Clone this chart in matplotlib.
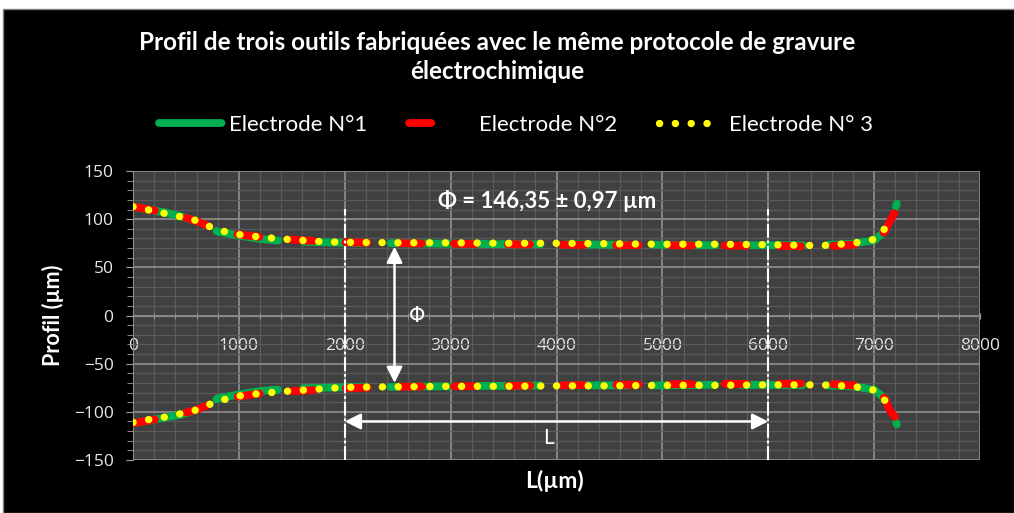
import numpy as np
import matplotlib
matplotlib.use("Agg")
from matplotlib import pyplot as plt
from matplotlib.ticker import MultipleLocator
from matplotlib.patches import Rectangle

plt.rcParams['font.family'] = ['Lato', 'DejaVu Sans']
plt.rcParams['lines.scale_dashes'] = False

# Electrode N°1 (vert)
x1 = [0, 150, 300, 450, 600, 750, 800, 1000, 1200, 1400, 1600, 1800, 2000, 2500, 3000,
      3500, 4000, 4500, 5000, 5500, 6000, 6500, 6800, 7000, 7100, 7150, 7215]
haut1 = [113, 110, 107, 103, 98, 90, 87, 83, 79.5, 77.5, 76.5, 76, 75.5, 75, 74.5,
         74, 74, 73.5, 73.5, 73, 73, 73, 74.5, 78, 87, 97, 116]
bas1 = [-112, -109, -106, -103, -98, -90, -86, -82, -78.5, -76.5, -75.5, -75, -74.5, -74, -73.5,
        -73, -72.5, -72.5, -72.5, -72, -72, -72.5, -73.5, -77, -86, -97, -113]

# Electrode N°2 (rouge)
x2 = [0, 150, 300, 450, 600, 750, 900, 1000, 1200, 1400, 1600, 1800, 2000, 2500, 3000,
      3500, 4000, 4500, 5000, 5500, 6000, 6500, 6800, 7000, 7100, 7150, 7210]
haut2 = [113, 110, 107, 103, 98, 91, 86, 84, 81.5, 79.5, 78, 77, 76, 75, 74.5,
         74, 73.5, 73, 73, 72.5, 72.5, 71.5, 73.5, 77.5, 87, 98, 110]
bas2 = [-112, -109, -106, -102, -98, -91, -86, -84, -81, -79, -78, -77, -75.5, -74, -73.5,
        -73, -72.5, -72, -71.5, -71, -71, -70.5, -72.5, -77, -86, -99, -107]

# Electrode N° 3 (jaune, pointillé)
x3 = [0, 150, 300, 450, 600, 750, 900, 1000, 1200, 1400, 1600, 1800, 2000, 2500, 3000,
      3500, 4000, 4500, 5000, 5500, 6000, 6500, 6800, 7000, 7100, 7160]
haut3 = [113, 109.5, 106, 102.5, 98.5, 91, 86, 84, 81.5, 79.5, 78, 76.5, 76, 75.5, 75.5,
         75, 75, 74.5, 74, 74, 73.5, 72.5, 75, 79, 90, 103]
bas3 = [-111, -108, -105.5, -102, -98, -91, -86, -83.5, -81, -79, -77.5, -76, -74.5, -74, -73.5,
        -73.5, -73, -73, -72.5, -72.5, -72, -72, -73.5, -77.5, -88, -101.5]

noms = ['Electrode N°1', 'Electrode N°2', 'Electrode N° 3']
L_debut, L_fin = 2000, 6000
x_phi = 2470
texte_phi = 'Φ = 146,35 ± 0,97 µm'

fig = plt.figure(figsize=(10.14, 5.13), dpi=100)
fig.patch.set_facecolor('white')
fig.patches.append(Rectangle((3 / 1014, 0), 1, 1 - 9 / 513, transform=fig.transFigure,
                             facecolor='black', edgecolor='#7f7f7f', lw=1, zorder=-10))

ax = fig.add_axes([133 / 1014, 53 / 513, 847 / 1014, 289 / 513], zorder=2)
ax.set_facecolor('#404040')

# courbes
styles = [
    dict(color='#00b050', lw=5.6, dashes=(45, 18), dash_capstyle='round'),
    dict(color='#ff0000', lw=5.6, dashes=(16, 23), dash_capstyle='round'),
    dict(color='#ffff00', lw=5.3, dashes=(0.1, 11.3), dash_capstyle='round'),
]
series = [(x1, haut1, bas1), (x2, haut2, bas2), (x3, haut3, bas3)]
handles = []
for (xs, h, b), st, nom in zip(series, styles, noms):
    ln, = ax.plot(xs, h, label=nom, zorder=3, **st)
    ax.plot(xs, b, zorder=3, **st)
    handles.append(ln)

ax.set_xlim(0, 8000)
ax.set_ylim(-150, 150)
ax.xaxis.set_major_locator(MultipleLocator(1000))
ax.xaxis.set_minor_locator(MultipleLocator(200))
ax.yaxis.set_major_locator(MultipleLocator(50))
ax.yaxis.set_minor_locator(MultipleLocator(10))
ax.grid(which='major', color='#8a8a8a', lw=1.3, zorder=1)
ax.grid(which='minor', color='#5a5a5a', lw=0.9, zorder=1)
ax.set_axisbelow(True)

ax.spines['bottom'].set_position(('data', 0))
ax.spines['bottom'].set_color('#8c8c8c')
ax.spines['left'].set_color('#8c8c8c')
ax.spines['top'].set_visible(False)
ax.spines['right'].set_visible(False)

ax.tick_params(axis='x', which='both', direction='inout', colors='#a0a0a0', length=4, pad=14)
ax.tick_params(axis='y', which='major', direction='out', colors='#a0a0a0', length=5, pad=9)
ax.tick_params(axis='y', which='minor', direction='out', colors='#a0a0a0', length=4)
for lab in ax.get_xticklabels() + ax.get_yticklabels():
    lab.set_color('#e8e8e8')
    lab.set_fontfamily(['Open Sans', 'DejaVu Sans'])
    lab.set_fontsize(12.5)

ax.set_xlabel('L(µm)', color='white', fontweight='bold', fontsize=16.5)
ax.xaxis.set_label_coords(0.498, -0.035)
ax.set_ylabel('Profil (µm)', color='white', fontweight='bold', fontsize=15.5)
ax.yaxis.set_label_coords(-0.082, 0.5)

# repères L
ax.vlines([L_debut, L_fin], -150, 111, colors='white', lw=1.5,
          linestyles=[(0, (10, 2, 2, 2))], zorder=4)
ax.annotate('', xy=(L_debut, -110), xytext=(L_fin, -110),
            arrowprops=dict(arrowstyle='<|-|>', color='white', lw=1.8,
                            mutation_scale=24, shrinkA=0, shrinkB=0), zorder=5)
ax.text((L_debut + L_fin) / 2 - 80, -127, 'L', color='white', fontsize=15,
        ha='center', va='center')

# repère Φ
y_h = np.interp(x_phi, x3, haut3) - 4
y_b = np.interp(x_phi, x3, bas3) + 4
ax.annotate('', xy=(x_phi, y_h), xytext=(x_phi, y_b),
            arrowprops=dict(arrowstyle='<|-|>', color='white', lw=1.8,
                            mutation_scale=24, shrinkA=0, shrinkB=0), zorder=5)
ax.text(x_phi + 210, 0, 'Φ', color='white', fontsize=15, ha='center', va='center',
        family=['DejaVu Sans'])
ax.text(3910, 119, texte_phi, color='white', fontsize=16, fontweight='bold',
        ha='center', va='center')

fig.text(497 / 1014, 1 - 31 / 513,
         'Profil de trois outils fabriquées avec le même protocole de gravure\nélectrochimique',
         color='white', fontweight='bold', fontsize=17.5, ha='center', va='top', linespacing=1.3)

leg = fig.legend(handles, noms, loc='center', bbox_to_anchor=(516 / 1014, 1 - 125 / 513),
                 ncol=3, frameon=False, fontsize=16, labelcolor='white',
                 handlelength=2.9, handletextpad=0.25, columnspacing=1.9)
# poignées façon Excel : un seul tiret rouge, quatre points jaunes
leg.get_lines()[1].set_dashes((16, 60))
leg.get_lines()[2].set_dashes((0.1, 11.3, 0.1, 11.3, 0.1, 11.3, 0.1, 40))

plt.savefig('out.png', dpi=100, facecolor=fig.get_facecolor())
